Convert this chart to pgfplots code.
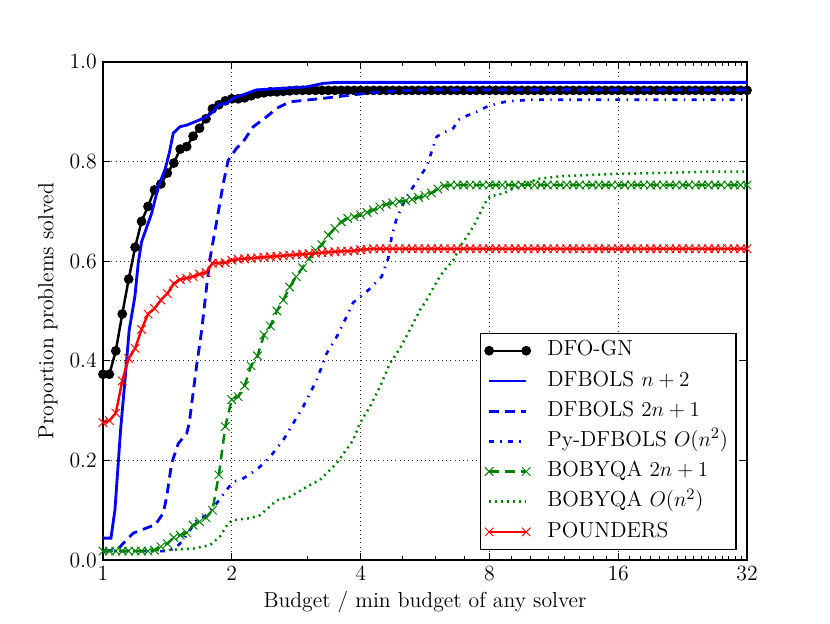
\documentclass[border=0pt]{standalone}
\usepackage{pgfplots}
\pgfplotsset{compat=1.18}
\usepackage{pgfplotstable}
\definecolor{mplblue}{rgb}{0,0,1}
\definecolor{mplgreen}{rgb}{0,0.5,0}
\definecolor{mplred}{rgb}{1,0,0}

% t = log2(budget ratio); dfo = DFO-GN, pou = POUNDERS, bob = BOBYQA 2n+1
\pgfplotstableread{
t dfo pou bob
0.00 0.373 0.276 0.018
0.05 0.373 0.280 0.018
0.10 0.420 0.295 0.018
0.15 0.494 0.360 0.018
0.20 0.564 0.405 0.018
0.25 0.628 0.425 0.018
0.30 0.680 0.463 0.018
0.35 0.710 0.494 0.018
0.40 0.743 0.505 0.020
0.45 0.755 0.522 0.027
0.50 0.777 0.535 0.033
0.55 0.797 0.555 0.045
0.60 0.825 0.563 0.050
0.65 0.830 0.566 0.055
0.70 0.851 0.569 0.070
0.75 0.867 0.574 0.077
0.80 0.886 0.577 0.085
0.85 0.906 0.596 0.100
0.90 0.914 0.596 0.171
0.95 0.922 0.597 0.268
1.00 0.926 0.602 0.322
1.05 0.926 0.604 0.328
1.10 0.928 0.605 0.350
1.15 0.932 0.606 0.390
1.20 0.936 0.607 0.410
1.25 0.938 0.608 0.452
1.30 0.940 0.609 0.470
1.35 0.940 0.610 0.500
1.40 0.941 0.611 0.522
1.45 0.942 0.612 0.548
1.50 0.943 0.613 0.569
1.55 0.943 0.614 0.587
1.60 0.943 0.615 0.605
1.65 0.943 0.616 0.622
1.70 0.943 0.617 0.633
1.75 0.943 0.618 0.652
1.80 0.943 0.619 0.666
1.85 0.943 0.620 0.679
1.90 0.943 0.620 0.686
1.95 0.943 0.621 0.689
2.00 0.943 0.623 0.693
2.05 0.943 0.624 0.698
2.10 0.943 0.625 0.703
2.15 0.943 0.625 0.709
2.20 0.943 0.625 0.714
2.25 0.943 0.625 0.717
2.30 0.943 0.625 0.720
2.35 0.943 0.625 0.721
2.40 0.943 0.625 0.724
2.45 0.943 0.625 0.728
2.50 0.943 0.625 0.732
2.55 0.943 0.625 0.737
2.60 0.943 0.625 0.745
2.65 0.943 0.625 0.751
2.70 0.943 0.625 0.753
2.75 0.943 0.625 0.753
2.80 0.943 0.625 0.753
2.85 0.943 0.625 0.753
2.90 0.943 0.625 0.753
2.95 0.943 0.625 0.753
3.00 0.943 0.625 0.753
3.05 0.943 0.625 0.753
3.10 0.943 0.625 0.753
3.15 0.943 0.625 0.753
3.20 0.943 0.625 0.753
3.25 0.943 0.625 0.753
3.30 0.943 0.625 0.753
3.35 0.943 0.625 0.753
3.40 0.943 0.625 0.753
3.45 0.943 0.625 0.753
3.50 0.943 0.625 0.753
3.55 0.943 0.625 0.753
3.60 0.943 0.625 0.753
3.65 0.943 0.625 0.753
3.70 0.943 0.625 0.753
3.75 0.943 0.625 0.753
3.80 0.943 0.625 0.753
3.85 0.943 0.625 0.753
3.90 0.943 0.625 0.753
3.95 0.943 0.625 0.753
4.00 0.943 0.625 0.753
4.05 0.943 0.625 0.753
4.10 0.943 0.625 0.753
4.15 0.943 0.625 0.753
4.20 0.943 0.625 0.753
4.25 0.943 0.625 0.753
4.30 0.943 0.625 0.753
4.35 0.943 0.625 0.753
4.40 0.943 0.625 0.753
4.45 0.943 0.625 0.753
4.50 0.943 0.625 0.753
4.55 0.943 0.625 0.753
4.60 0.943 0.625 0.753
4.65 0.943 0.625 0.753
4.70 0.943 0.625 0.753
4.75 0.943 0.625 0.753
4.80 0.943 0.625 0.753
4.85 0.943 0.625 0.753
4.90 0.943 0.625 0.753
4.95 0.943 0.625 0.753
5.00 0.943 0.625 0.753
}\marked

\begin{document}
\begin{tikzpicture}
\begin{axis}[
  at={(0pt,0pt)}, anchor=south west,
  scale only axis, width=364.8pt, height=282.1pt,
  xmin=0, xmax=5, ymin=0, ymax=1,
  xtick={0,1,2,3,4,5}, xticklabels={1,2,4,8,16,32},
  minor xtick={1.58496,2.32193,2.58496,2.80735,3.16993,3.32193,3.45943,3.58496,3.70044,3.80735,3.90689,4.08746,4.16993,4.24793,4.32193,4.39232,4.45943,4.52356,4.58496,4.64386,4.70044,4.75489,4.80735,4.85798,4.90689,4.95420},
  ytick={0,0.2,0.4,0.6,0.8,1.0},
  yticklabels={0.0,0.2,0.4,0.6,0.8,1.0},
  xmajorgrids, ymajorgrids,
  grid style={black!85, dotted, line width=0.5pt},
  axis line style={black, line width=0.8pt},
  tick style={black, line width=0.6pt},
  major tick length=4pt, minor tick length=2.2pt,
  tick align=inside, tick pos=both,
  xticklabel pos=bottom, yticklabel pos=left,
  ticklabel style={font=\fontsize{12.3}{14}\selectfont},
  xlabel={Budget / min budget of any solver},
  ylabel={Proportion problems solved},
  label style={font=\fontsize{12.3}{14}\selectfont},
  xlabel style={at={(axis description cs:0.5,-0.084)}, anchor=center},
  ylabel style={at={(axis description cs:-0.0855,0.5)}, anchor=center},
  clip mode=individual,
  legend image code/.code={\draw[#1] plot coordinates {(0pt,0pt) (21pt,0pt)};},
  legend cell align=left,
  legend style={at={(0.984,0.02)}, anchor=south east, draw=black, line width=0.8pt, fill=white,
    font=\fontsize{12.3}{14}\selectfont, inner xsep=2.5pt, inner ysep=1.5pt, row sep=0.3pt,
    nodes={text height=9.3pt, text depth=3.5pt, inner ysep=2pt},
    /tikz/every odd column/.append style={column sep=7.5pt}},
]
\addplot[black, line width=1.4pt, mark=*, mark size=2.5pt, mark options={solid, fill=black, line width=0.5pt}]
  table[x=t, y=dfo]{\marked};
\addlegendentry{DFO-GN}

\addplot[mplblue, line width=1.6pt] coordinates {
(0,0.044) (0.062,0.044) (0.093,0.100) (0.137,0.261) (0.171,0.361) (0.204,0.462) (0.248,0.529) (0.274,0.596) (0.300,0.639) (0.378,0.696) (0.430,0.750) (0.481,0.783) (0.515,0.817) (0.546,0.857) (0.598,0.870) (0.649,0.873) (0.753,0.884) (0.805,0.890) (0.856,0.900) (0.895,0.914) (0.960,0.917) (1.012,0.927) (1.193,0.944) (1.582,0.950) (1.709,0.957) (1.815,0.959) (5,0.959)
};
\addlegendentry{DFBOLS $n+2$}

\addplot[mplblue, line width=1.6pt, dash pattern=on 5.5pt off 3.5pt] coordinates {
(0,0.018) (0.100,0.020) (0.119,0.023) (0.235,0.054) (0.365,0.067) (0.404,0.070) (0.468,0.094) (0.495,0.127) (0.533,0.194) (0.585,0.234) (0.650,0.254) (0.670,0.275) (0.727,0.390) (0.766,0.460) (0.805,0.549) (0.831,0.605) (0.883,0.680) (0.934,0.756) (0.973,0.803) (1.038,0.827) (1.089,0.840) (1.167,0.870) (1.271,0.890) (1.349,0.907) (1.452,0.920) (1.710,0.927) (1.941,0.934) (2.150,0.940) (2.460,0.944) (5,0.944)
};
\addlegendentry{DFBOLS $2n+1$}

\addplot[mplblue, line width=1.5pt, dash pattern=on 2.8pt off 3.6pt on 0.8pt off 3.6pt] coordinates {
(0,0.018) (0.495,0.018) (0.559,0.023) (0.623,0.040) (0.727,0.080) (0.805,0.090) (0.883,0.114) (0.960,0.141) (1.012,0.157) (1.089,0.164) (1.193,0.181) (1.297,0.207) (1.400,0.241) (1.478,0.275) (1.555,0.308) (1.659,0.361) (1.737,0.415) (1.814,0.448) (1.892,0.489) (1.943,0.517) (2.060,0.542) (2.164,0.569) (2.215,0.606) (2.241,0.649) (2.280,0.686) (2.345,0.723) (2.384,0.740) (2.436,0.760) (2.513,0.790) (2.539,0.810) (2.564,0.830) (2.591,0.850) (2.642,0.858) (2.720,0.867) (2.759,0.884) (2.824,0.892) (2.901,0.900) (2.979,0.910) (3.043,0.915) (3.121,0.920) (3.199,0.922) (3.315,0.924) (5,0.924)
};
\addlegendentry{Py-DFBOLS $O(n^2)$}

\addplot[mplgreen, line width=1.4pt, dash pattern=on 5.5pt off 3.5pt, mark=x, mark size=3.4pt, mark options={solid, line width=0.55pt}]
  table[x=t, y=bob]{\marked};
\addlegendentry{BOBYQA $2n+1$}

\addplot[mplgreen, line width=1.4pt, dash pattern=on 1.1pt off 2.3pt] coordinates {
(0,0.018) (0.495,0.020) (0.701,0.023) (0.831,0.030) (0.908,0.047) (0.973,0.074) (1.012,0.080) (1.141,0.084) (1.219,0.090) (1.349,0.120) (1.452,0.127) (1.582,0.147) (1.685,0.161) (1.814,0.194) (1.943,0.241) (1.995,0.275) (2.073,0.308) (2.151,0.348) (2.228,0.395) (2.306,0.425) (2.409,0.475) (2.461,0.502) (2.513,0.522) (2.591,0.559) (2.642,0.579) (2.720,0.602) (2.772,0.629) (2.824,0.649) (2.875,0.669) (2.927,0.696) (2.979,0.723) (3.005,0.730) (3.108,0.736) (3.238,0.753) (3.393,0.766) (3.574,0.771) (3.962,0.775) (4.480,0.778) (4.736,0.780) (5,0.780)
};
\addlegendentry{BOBYQA $O(n^2)$}

\addplot[mplred, line width=1.4pt, mark=x, mark size=3.4pt, mark options={solid, line width=0.55pt}]
  table[x=t, y=pou]{\marked};
\addlegendentry{POUNDERS}
\end{axis}
\pgfresetboundingbox
\path (-58.3pt,-35.7pt) rectangle (411.8pt,317.2pt);
\end{tikzpicture}
\end{document}
